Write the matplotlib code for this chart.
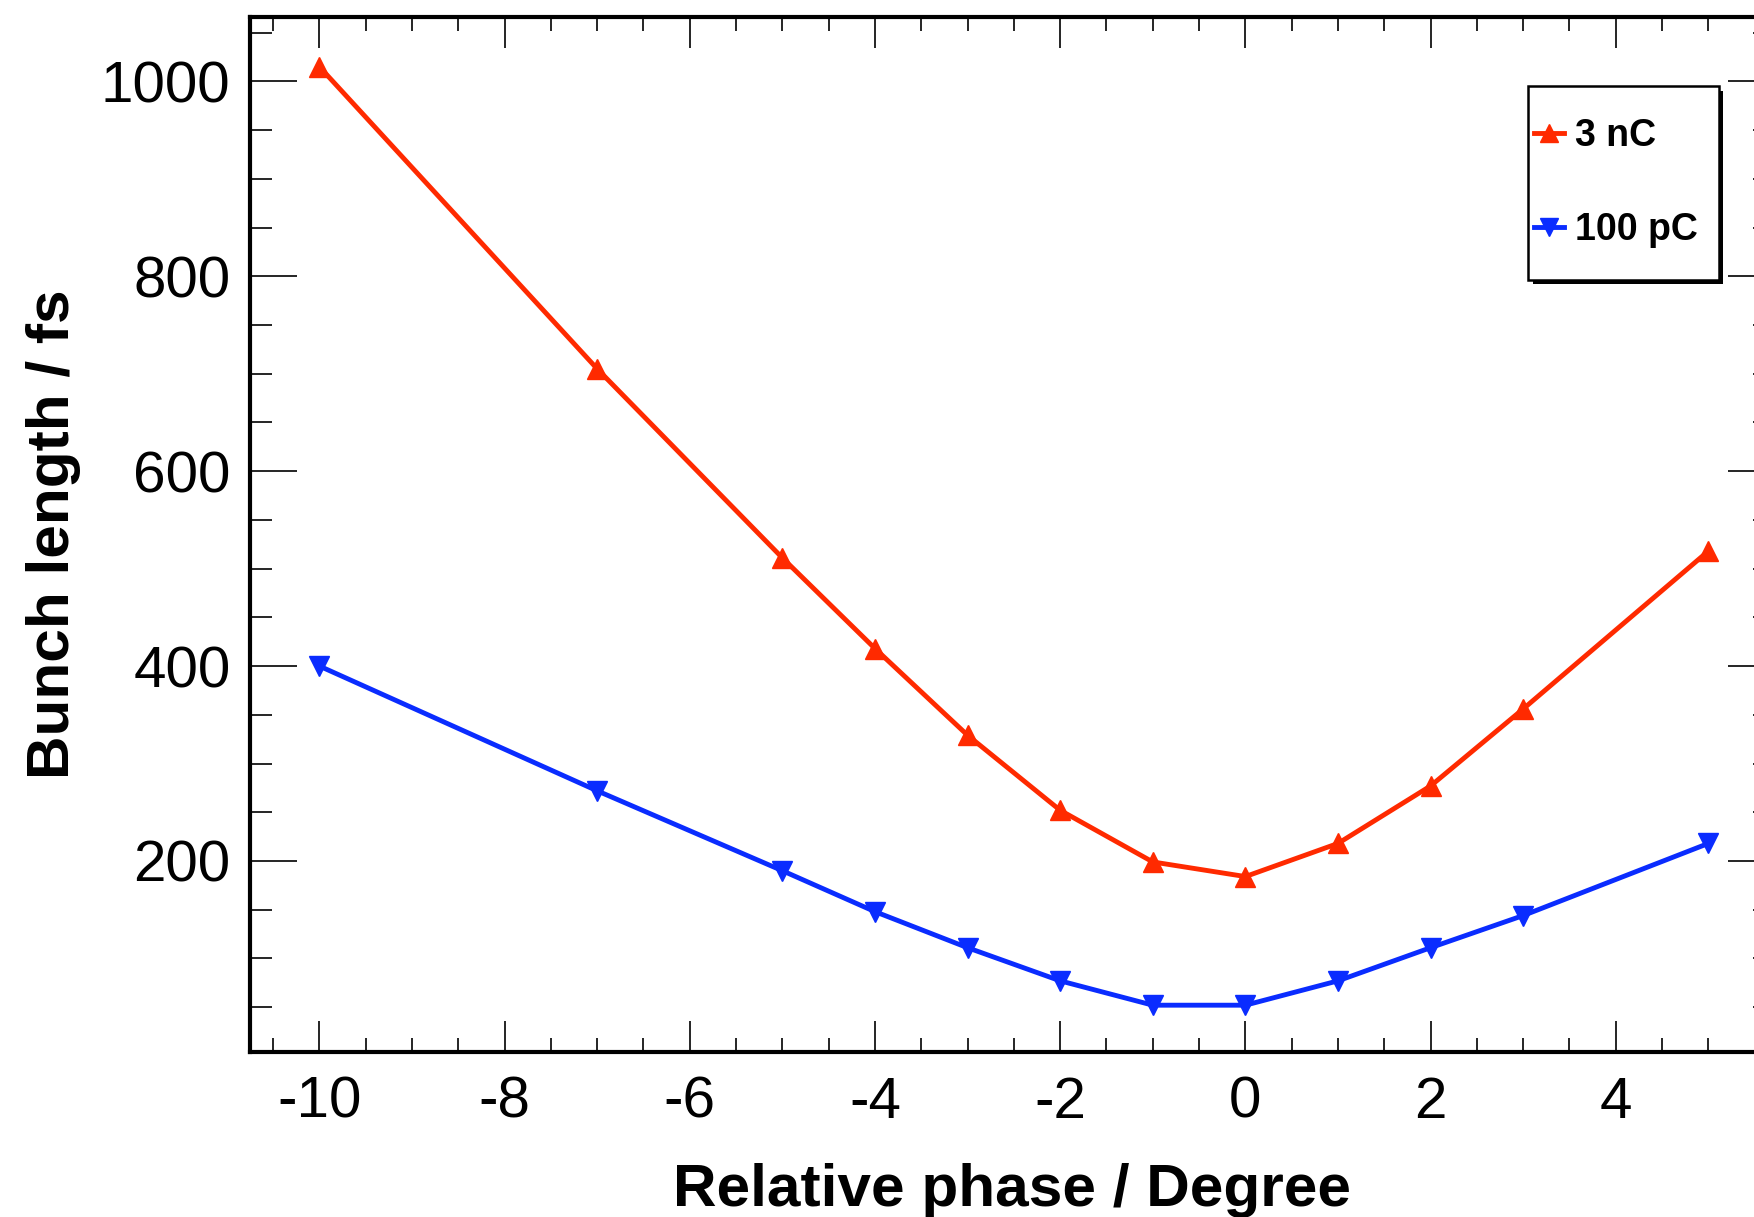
import numpy as np
import matplotlib.pyplot as plt
from matplotlib.patches import Rectangle
from matplotlib.ticker import MultipleLocator

plt.rcParams['font.family'] = ['Liberation Sans', 'DejaVu Sans']
plt.rcParams['axes.unicode_minus'] = False

# data
phase = [-10, -7, -5, -4, -3, -2, -1, 0, 1, 2, 3, 5]
len_3nC = [1015, 705, 511, 418, 329, 252, 199, 184, 218, 277, 356, 518]
len_100pC = [400, 272, 190, 148, 111, 77, 52, 52, 77, 111, 144, 218]

red = '#ff2a00'
blue = '#0a2cff'

fig = plt.figure(figsize=(17.54, 12.17), dpi=100)
ax = fig.add_axes([0.1425, 0.1356, 0.8695, 0.8504])

ax.plot(phase, len_3nC, color=red, lw=3.5, marker='^', ms=14, label='3 nC')
ax.plot(phase, len_100pC, color=blue, lw=3.5, marker='v', ms=14, label='100 pC')

ax.set_xlim(-10.75, 5.72)
ax.set_ylim(4, 1066)

ax.xaxis.set_major_locator(MultipleLocator(2))
ax.xaxis.set_minor_locator(MultipleLocator(0.5))
ax.yaxis.set_major_locator(MultipleLocator(200))
ax.yaxis.set_minor_locator(MultipleLocator(50))
ax.set_yticks([200, 400, 600, 800, 1000])

ax.tick_params(which='both', direction='in', top=True, right=True, width=1.2,
               labelsize=42)
ax.tick_params(axis='x', which='major', length=22, pad=17)
ax.tick_params(axis='x', which='minor', length=10)
ax.tick_params(axis='y', which='major', length=34, pad=14)
ax.tick_params(axis='y', which='minor', length=16)

for s in ax.spines.values():
    s.set_linewidth(3)

ax.set_xlabel('Relative phase / Degree', fontsize=43.5, fontweight='bold', labelpad=24)
ax.set_ylabel('Bunch length / fs', fontsize=43.5, fontweight='bold', labelpad=14)

# legend box with a ROOT-style solid shadow
bx, by, bw, bh = 0.838, 0.746, 0.125, 0.187
ax.add_patch(Rectangle((bx + 0.003, by - 0.004), bw, bh, transform=ax.transAxes,
                       facecolor='black', edgecolor='none', zorder=5))
ax.add_patch(Rectangle((bx, by), bw, bh, transform=ax.transAxes,
                       facecolor='white', edgecolor='black', lw=1.8, zorder=5))

leg = ax.legend(loc='center left', bbox_to_anchor=(bx + 0.004, by + bh / 2),
                prop={'weight': 'bold', 'size': 27}, frameon=False,
                handlelength=0.8, handletextpad=0.3, labelspacing=1.55,
                borderpad=0, borderaxespad=0, markerscale=0.9)
leg.set_zorder(6)

fig.savefig('out.png', dpi=100)
